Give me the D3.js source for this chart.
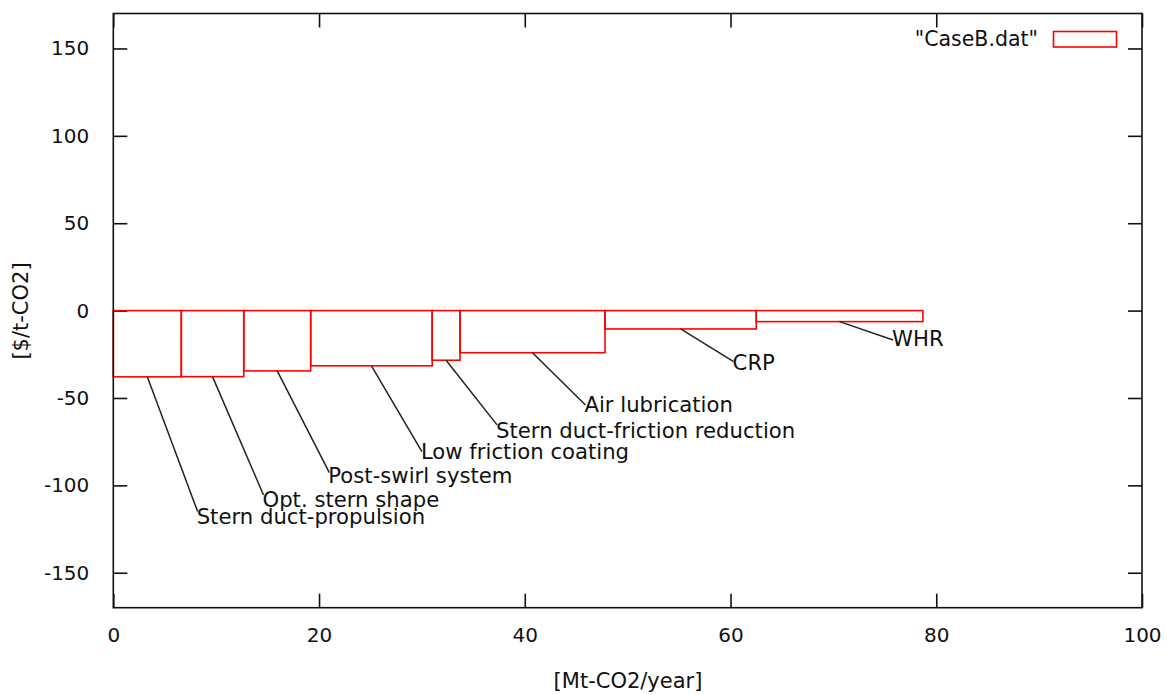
<!DOCTYPE html>
<html>
<head>
<meta charset="utf-8">
<script src="https://cdn.jsdelivr.net/npm/d3@7"></script>
<style>
  html, body { margin: 0; padding: 0; background: #fff; }
  svg { display: block; font-family: "DejaVu Sans", sans-serif; }
</style>
</head>
<body>
<svg id="chart" width="1167" height="695"></svg>
<script>
// Marginal abatement cost curve, case B
const measures = [
  "Stern duct-propulsion", "Opt. stern shape", "Post-swirl system",
  "Low friction coating", "Stern duct-friction reduction", "Air lubrication",
  "CRP", "WHR"
];
// abatement potential of each measure [Mt-CO2/year]
const abatement = [6.61, 6.07, 6.51, 11.81, 2.70, 14.10, 14.70, 16.20];
// marginal cost of each measure [$/t-CO2]
const cost = [-37.9, -37.8, -34.5, -31.6, -28.4, -24.1, -10.5, -6.3];
// label placement, data units: leader line end and text centre line
const labelX = [8.2, 14.6, 21.0, 30.0, 37.3, 45.9, 60.3, 75.8];
const arrowY = [-115, -105.5, -92.7, -80.7, -65.4, -54.0, -29.2, -16.8];
const labelY = [-118.6, -109.0, -95.2, -81.5, -69.5, -54.6, -30.5, -16.8];

const xTicks = [0, 20, 40, 60, 80, 100];
const yTicks = [-150, -100, -50, 0, 50, 100, 150];
const seriesName = '"CaseB.dat"';

const svg = d3.select("#chart");
const plotL = 113.3, plotR = 1142, plotT = 13.5, plotB = 607.7;

const x = d3.scaleLinear().domain([0, 100]).range([plotL, plotR]);
const y = d3.scaleLinear().domain([-170, 170]).range([plotB, plotT]);

// cumulative positions of the boxes
const starts = [];
let acc = 0;
abatement.forEach(w => { starts.push(acc); acc += w; });

const tickLen = 14;
const plain = d => String(d);

// frame axes with inward ticks, mirrored on the opposite sides
svg.append("g").attr("transform", `translate(0,${plotB})`)
  .call(d3.axisBottom(x).tickValues(xTicks).tickSize(-tickLen).tickPadding(20).tickFormat(plain))
  .call(g => g.select(".domain").remove());
svg.append("g").attr("transform", `translate(0,${plotT})`)
  .call(d3.axisTop(x).tickValues(xTicks).tickSize(-tickLen).tickFormat(""))
  .call(g => g.select(".domain").remove());
svg.append("g").attr("transform", `translate(${plotL},0)`)
  .call(d3.axisLeft(y).tickValues(yTicks).tickSize(-tickLen).tickPadding(24).tickFormat(plain))
  .call(g => g.select(".domain").remove());
svg.append("g").attr("transform", `translate(${plotR},0)`)
  .call(d3.axisRight(y).tickValues(yTicks).tickSize(-tickLen).tickFormat(""))
  .call(g => g.select(".domain").remove());

svg.selectAll(".tick line").attr("stroke", "#111").attr("stroke-width", 1.6);
svg.selectAll(".tick text").attr("fill", "#111").style("font-size", "20px")
  .style("font-family", "'DejaVu Sans', sans-serif");

// boxes
svg.append("g").selectAll("rect").data(cost).join("rect")
  .attr("x", (d, i) => x(starts[i]))
  .attr("width", (d, i) => x(starts[i] + abatement[i]) - x(starts[i]))
  .attr("y", d => Math.min(y(0), y(d)))
  .attr("height", d => Math.abs(y(d) - y(0)))
  .attr("fill", "none")
  .attr("stroke", "#ff0000")
  .attr("stroke-width", 1.6);

// leader lines from each box to its label
svg.append("g").selectAll("line").data(measures).join("line")
  .attr("x1", (d, i) => x(starts[i] + abatement[i] / 2))
  .attr("y1", (d, i) => y(cost[i]))
  .attr("x2", (d, i) => x(labelX[i]))
  .attr("y2", (d, i) => y(arrowY[i]))
  .attr("stroke", "#222")
  .attr("stroke-width", 1.5);

svg.append("g").selectAll("text").data(measures).join("text")
  .attr("x", (d, i) => x(labelX[i]) - 1)
  .attr("y", (d, i) => y(labelY[i]))
  .attr("dominant-baseline", "middle")
  .attr("fill", "#111")
  .style("font-size", "21.2px")
  .text(d => d);

// frame
svg.append("rect")
  .attr("x", plotL).attr("y", plotT)
  .attr("width", plotR - plotL).attr("height", plotB - plotT)
  .attr("fill", "none").attr("stroke", "#111").attr("stroke-width", 1.6);

// legend
svg.append("text")
  .attr("x", 1038).attr("y", 40)
  .attr("text-anchor", "end").attr("dominant-baseline", "middle")
  .attr("fill", "#111").style("font-size", "20.5px")
  .text(seriesName);
svg.append("rect")
  .attr("x", 1053.5).attr("y", 31.5).attr("width", 63).attr("height", 15.5)
  .attr("fill", "none").attr("stroke", "#ff0000").attr("stroke-width", 1.6);

// axis titles
svg.append("text")
  .attr("x", 628).attr("y", 682)
  .attr("text-anchor", "middle").attr("dominant-baseline", "middle")
  .attr("fill", "#111").style("font-size", "21px")
  .text("[Mt-CO2/year]");
svg.append("text")
  .attr("transform", "translate(22,311) rotate(-90)")
  .attr("text-anchor", "middle").attr("dominant-baseline", "middle")
  .attr("fill", "#111").style("font-size", "21px")
  .text("[$/t-CO2]");
</script>
</body>
</html>
